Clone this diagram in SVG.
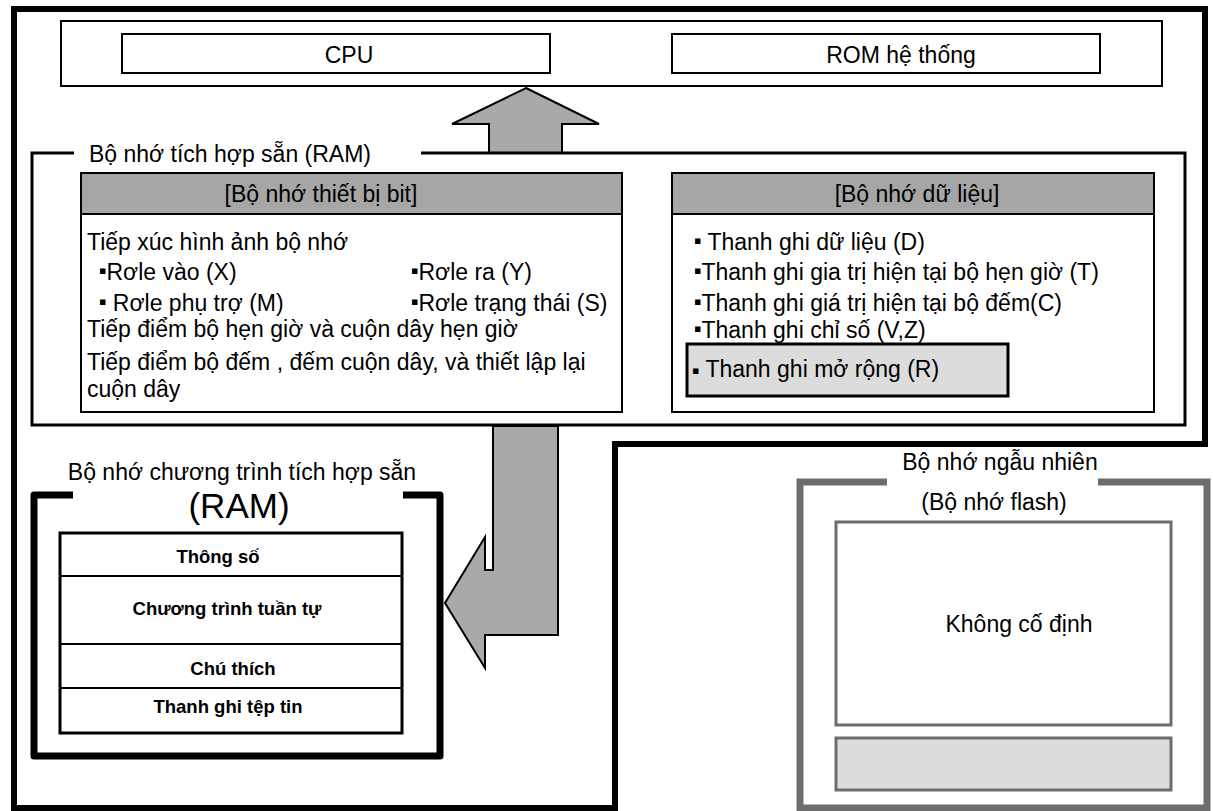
<svg xmlns="http://www.w3.org/2000/svg" width="1213" height="811" viewBox="0 0 1213 811">
<style>
text{font-family:"Liberation Sans",Arial,sans-serif;fill:#000}
.t{font-size:23px}
.c{text-anchor:middle}
.b{font-weight:bold;font-size:18.5px;text-anchor:middle}
.box{fill:#fff;stroke:#000;stroke-width:2}
.hdr{fill:#a6a6a6;stroke:#000;stroke-width:2}
.arrow{fill:#a9a9a9;stroke:#000;stroke-width:2;stroke-linejoin:miter}
.bul{font-size:11px;font-family:"DejaVu Sans",sans-serif}
</style>
<rect width="1213" height="811" fill="#fff"/>
<g id="outer">
<path d="M14 808 L14 9 L1205 9 L1205 444 L615 444 L615 808 Z" fill="none" stroke="#000" stroke-width="6"/>
</g>
<g id="cpu-rom">
<rect x="61" y="21" width="1101" height="65" class="box"/>
<g id="cpu"><rect x="122" y="34" width="428" height="39" class="box"/><text x="349" y="63" class="t c">CPU</text></g>
<g id="rom"><rect x="672" y="34" width="428" height="39" class="box"/><text x="901" y="63" class="t c">ROM hệ thống</text></g>
</g>
<g id="connectors">
<polygon class="arrow" points="526,88 599,124 562,124 562,153 489,153 489,124 452,124"/>
<polygon class="arrow" points="493,426 558,426 558,635 485,635 485,668 445,603 485,537 485,570 493,570"/>
</g>
<g id="ram">
<path d="M74 153 L32 153 L32 425 L1185 425 L1185 153 L421 153" fill="none" stroke="#000" stroke-width="3"/>
<text x="89" y="162" class="t">Bộ nhớ tích hợp sẵn (RAM)</text>
</g>
<g id="bit-device">
<rect x="81" y="173" width="541" height="239" class="box"/>
<rect x="81" y="173" width="541" height="41" class="hdr"/>
<text x="321" y="202" class="t c">[Bộ nhớ thiết bị bit]</text>
<text x="87" y="250" class="t">Tiếp xúc hình ảnh bộ nhớ</text>
<text x="99" y="280" class="t"><tspan class="bul" dy="-6">▪</tspan><tspan dy="6">Rơle vào (X)</tspan></text>
<text x="411" y="280" class="t"><tspan class="bul" dy="-6">▪</tspan><tspan dy="6">Rơle ra (Y)</tspan></text>
<text x="99" y="311" class="t"><tspan class="bul" dy="-6">▪</tspan><tspan dy="6"> Rơle phụ trợ (M)</tspan></text>
<text x="411" y="311" class="t"><tspan class="bul" dy="-6">▪</tspan><tspan dy="6">Rơle trạng thái (S)</tspan></text>
<text x="87" y="337" class="t">Tiếp điểm bộ hẹn giờ và cuộn dây hẹn giờ</text>
<text x="87" y="370" class="t">Tiếp điểm bộ đếm , đếm cuộn dây, và thiết lập lại</text>
<text x="87" y="397" class="t">cuộn dây</text>
</g>
<g id="data-memory">
<rect x="672" y="173" width="482" height="239" class="box"/>
<rect x="672" y="173" width="482" height="41" class="hdr"/>
<text x="917" y="202" class="t c">[Bộ nhớ dữ liệu]</text>
<text x="694" y="250" class="t"><tspan class="bul" dy="-6">▪</tspan><tspan dy="6"> Thanh ghi dữ liệu (D)</tspan></text>
<text x="694" y="280" class="t"><tspan class="bul" dy="-6">▪</tspan><tspan dy="6">Thanh ghi gia trị hiện tại bộ hẹn giờ (T)</tspan></text>
<text x="694" y="311" class="t"><tspan class="bul" dy="-6">▪</tspan><tspan dy="6">Thanh ghi giá trị hiện tại bộ đếm(C)</tspan></text>
<text x="694" y="338" class="t"><tspan class="bul" dy="-6">▪</tspan><tspan dy="6">Thanh ghi chỉ số (V,Z)</tspan></text>
<g id="ext-reg">
<rect x="687" y="344" width="321" height="52" fill="#dcdcdc" stroke="#000" stroke-width="3"/>
<text x="692" y="377" class="t"><tspan class="bul" dy="-3">▪</tspan><tspan dy="3"> Thanh ghi mở rộng (R)</tspan></text>
</g>
</g>
<g id="program-memory">
<path d="M73 495 L34 495 L34 756 L440 756 L440 495 L403 495" fill="none" stroke="#000" stroke-width="7" stroke-linejoin="round"/>
<text x="242" y="480" class="t c">Bộ nhớ chương trình tích hợp sẵn</text>
<text x="239" y="518" class="c" font-size="35">(RAM)</text>
<rect x="60" y="533" width="342" height="200" fill="#fff" stroke="#000" stroke-width="3"/>
<line x1="60" y1="576" x2="402" y2="576" stroke="#000" stroke-width="2"/>
<line x1="60" y1="644" x2="402" y2="644" stroke="#000" stroke-width="2"/>
<line x1="60" y1="688" x2="402" y2="688" stroke="#000" stroke-width="2"/>
<text x="218" y="563" class="b">Thông số</text>
<text x="227" y="615" class="b">Chương trình tuần tự</text>
<text x="233" y="675" class="b">Chú thích</text>
<text x="228" y="713" class="b">Thanh ghi tệp tin</text>
</g>
<g id="flash-memory">
<path d="M887 482 L800 482 L800 808 L1207 808 L1207 482 L1098 482" fill="none" stroke="#6d6d6d" stroke-width="7"/>
<text x="1000" y="470" class="t c">Bộ nhớ ngẫu nhiên</text>
<text x="994" y="510" class="t c">(Bộ nhớ flash)</text>
<rect x="836" y="522" width="335" height="203" fill="#fff" stroke="#6d6d6d" stroke-width="3"/>
<text x="1019" y="632" class="t c">Không cố định</text>
<rect x="836" y="738" width="335" height="52" fill="#dcdcdc" stroke="#6d6d6d" stroke-width="3"/>
</g>
</svg>
